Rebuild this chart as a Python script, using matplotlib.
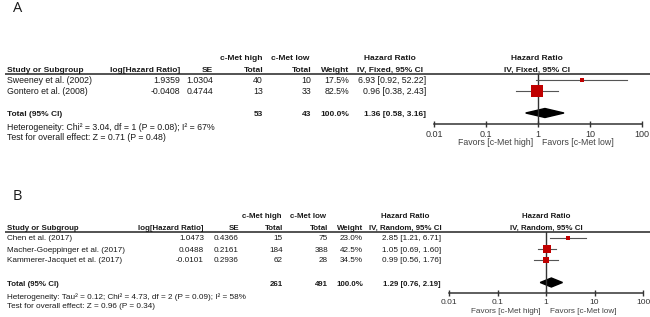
import matplotlib.pyplot as plt
from matplotlib.patches import Polygon

plt.rcParams['font.family'] = ['Liberation Sans', 'DejaVu Sans']

# ---- data: panel A (fixed effect) ----
studies_a = ['Sweeney et al. (2002)', 'Gontero et al. (2008)']
loghr_a = ['1.9359', '-0.0408']
se_a = ['1.0304', '0.4744']
high_a = [40, 13]
low_a = [10, 33]
weight_a = [17.5, 82.5]
hr_a = [6.93, 0.96]
lo_a = [0.92, 0.38]
hi_a = [52.22, 2.43]
total_a = dict(high=53, low=43, hr=1.36, lo=0.58, hi=3.16)
het_a = 'Heterogeneity: Chi\u00b2 = 3.04, df = 1 (P = 0.08); I\u00b2 = 67%'
test_a = 'Test for overall effect: Z = 0.71 (P = 0.48)'

# ---- data: panel B (random effects) ----
studies_b = ['Chen et al. (2017)', 'Macher-Goeppinger et al. (2017)', 'Kammerer-Jacquet et al. (2017)']
loghr_b = ['1.0473', '0.0488', '-0.0101']
se_b = ['0.4366', '0.2161', '0.2936']
high_b = [15, 184, 62]
low_b = [75, 388, 28]
weight_b = [23.0, 42.5, 34.5]
hr_b = [2.85, 1.05, 0.99]
lo_b = [1.21, 0.69, 0.56]
hi_b = [6.71, 1.60, 1.76]
total_b = dict(high=261, low=491, hr=1.29, lo=0.76, hi=2.19)
het_b = 'Heterogeneity: Tau\u00b2 = 0.12; Chi\u00b2 = 4.73, df = 2 (P = 0.09); I\u00b2 = 58%'
test_b = 'Test for overall effect: Z = 0.96 (P = 0.34)'

tick_vals = [0.01, 0.1, 1, 10, 100]
tick_labels = ['0.01', '0.1', '1', '10', '100']

W, H = 650, 317
TXT = '#1a1a1a'
RED = '#c00000'

fig = plt.figure(figsize=(W / 100, H / 100), dpi=100)
bg = fig.add_axes([0, 0, 1, 1])
bg.set_xlim(0, W)
bg.set_ylim(H, 0)
bg.axis('off')


def panel(label, ly, studies, loghr, se, high, low, weight, hr, lo, hi, total,
          het, test, method, cols, rows, ytot, yhead, ysep, fx0, fx1, yaxis, yhet, fs):
    c_lhr, c_se, c_hi, c_lo, c_w, c_hr, c_hrhead, c_fhead = cols

    def t(x, y, s, ha='left', bold=False, color=TXT):
        bg.text(x, y, s, ha=ha, va='center', fontsize=fs * (0.96 if bold else 1),
                color=color, fontweight='bold' if bold else 'normal')

    bg.text(13, ly, label, ha='left', va='center', fontsize=10.5,
            family='Open Sans', color=TXT)

    # header
    t(c_hi - 1, yhead - 11, 'c-Met high', 'right', True)
    t(c_lo - 2, yhead - 11, 'c-Met low', 'right', True)
    t(7, yhead, 'Study or Subgroup', bold=True)
    t(c_lhr, yhead, 'log[Hazard Ratio]', 'right', True)
    t(c_se, yhead, 'SE', 'right', True)
    t(c_hi, yhead, 'Total', 'right', True)
    t(c_lo, yhead, 'Total', 'right', True)
    t(c_w, yhead, 'Weight', 'right', True)
    t(c_hrhead, yhead - 11, 'Hazard Ratio', 'center', True)
    t(c_hrhead, yhead, 'IV, %s, 95%% CI' % method, 'center', True)
    t(c_fhead, yhead - 11, 'Hazard Ratio', 'center', True)
    t(c_fhead, yhead, 'IV, %s, 95%% CI' % method, 'center', True)
    bg.plot([5, W], [ysep, ysep], color='#444444', lw=1.3, solid_capstyle='butt')

    # study rows
    for i, name in enumerate(studies):
        y = rows[i] + 1
        t(7, y, name)
        t(c_lhr, y, loghr[i], 'right')
        t(c_se, y, se[i], 'right')
        t(c_hi, y, str(high[i]), 'right')
        t(c_lo, y, str(low[i]), 'right')
        t(c_w, y, '%.1f%%' % weight[i], 'right')
        t(c_hr, y, '%.2f [%.2f, %.2f]' % (hr[i], lo[i], hi[i]), 'right')

    y = ytot + 1.5
    t(7, y, 'Total (95% CI)', bold=True)
    t(c_hi, y, str(total['high']), 'right', True)
    t(c_lo, y, str(total['low']), 'right', True)
    t(c_w, y, '100.0%', 'right', True)
    t(c_hr, y, '%.2f [%.2f, %.2f]' % (total['hr'], total['lo'], total['hi']), 'right', True)
    t(7, yhet, het)
    t(7, yhet + 10, test)

    # forest plot
    fax = fig.add_axes([fx0 / W, 1 - yaxis / H, (fx1 - fx0) / W, (yaxis - ysep) / H])
    fax.set_xscale('log')
    fax.set_xlim(0.01, 100)
    fax.set_ylim(yaxis, ysep)
    fax.patch.set_alpha(0)
    for s in ['top', 'left', 'right']:
        fax.spines[s].set_visible(False)
    fax.spines['bottom'].set_color('#333333')
    fax.spines['bottom'].set_linewidth(1.1)
    fax.set_yticks([])
    fax.set_xticks(tick_vals, labels=tick_labels)
    fax.minorticks_off()
    fax.tick_params(axis='x', direction='inout', length=5, width=1, color='#333333',
                    labelsize=fs + 0.2, labelcolor='#333333', pad=1.5)
    fax.axvline(1, color='#333333', lw=1)
    for i in range(len(studies)):
        fax.plot([lo[i], hi[i]], [rows[i], rows[i]], color='#555555', lw=0.8, clip_on=False)
        side = 0.13 * weight[i] + 1.5
        fax.plot(hr[i], rows[i], 's', ms=side * 0.72, color=RED, mec=RED, mew=0,
                 clip_on=False)
    d = Polygon([[total['lo'], ytot], [total['hr'], ytot - 4.5], [total['hi'], ytot],
                 [total['hr'], ytot + 4.5]], closed=True, color='black')
    fax.add_patch(d)

    x1 = (fx0 + fx1) / 2
    t(x1 - 5, yaxis + 18.5, 'Favors [c-Met high]', 'right', color='#444444')
    t(x1 + 4, yaxis + 18.5, 'Favors [c-Met low]', 'left', color='#444444')


panel('A', 8, studies_a, loghr_a, se_a, high_a, low_a, weight_a, hr_a, lo_a, hi_a,
      total_a, het_a, test_a, 'Fixed',
      cols=(180, 213, 263, 311, 349, 426, 390, 537),
      rows=[79.5, 91], ytot=113, yhead=70, ysep=74,
      fx0=434, fx1=642, yaxis=124, yhet=127, fs=6.3)

panel('B', 197, studies_b, loghr_b, se_b, high_b, low_b, weight_b, hr_b, lo_b, hi_b,
      total_b, het_b, test_b, 'Random',
      cols=(204, 239, 283, 328, 363, 441, 405, 546),
      rows=[238, 249, 260], ytot=282.5, yhead=228, ysep=232,
      fx0=449, fx1=643, yaxis=293, yhet=297, fs=5.9)

fig.savefig('out.png', dpi=100)
